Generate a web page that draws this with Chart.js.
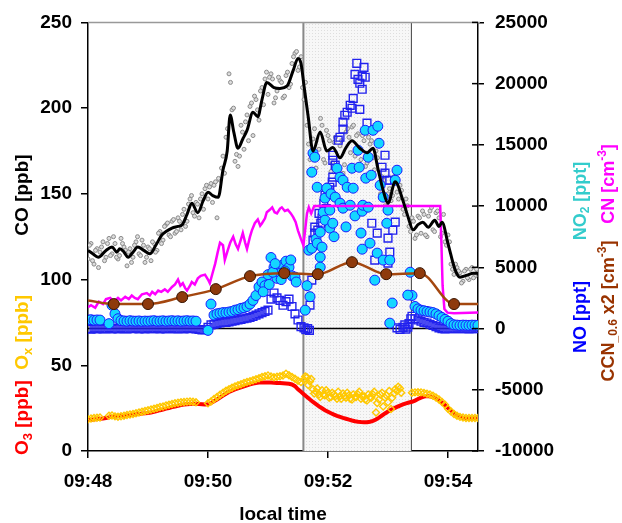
<!DOCTYPE html>
<html lang="en">
<head>
<meta charset="UTF-8">
<title>CO, NOx, O3 and particles</title>
<script src="https://cdn.jsdelivr.net/npm/chart.js"></script>
<style>
    html, body { margin: 0; padding: 0; background: #fff; }
    canvas { display: block; }
</style>
</head>
<body>
<canvas id="grafico" width="622" height="523"></canvas>
<script>
// time axis: minutes after 09:48 local time
const tickMinutes = [0, 2, 4, 6];
const tickLabels = ['09:48', '09:50', '09:52', '09:54'];
const step = 0.05;            // 3 s sampling of the regular series
const boxStart = 3.59;        // shaded period
const boxEnd = 5.39;

// CO raw [ppb], every 3 s from 09:48:00
const coRaw = [
    112,121,109,118,116,122,113,124,115,121,
    112,124,119,108,118,113,122,115,123,110,
    119,111,121,117,128,123,132,126,134,127,
    136,129,141,134,147,139,145,136,150,153,
    147,156,155,136,158,172,183,220,199,169,
    166,190,176,196,201,184,205,193,212,217,
    208,220,203,210,216,206,219,212,226,232,
    222,230,205,190,170,182,165,176,190,168,
    184,163,180,166,178,162,186,183,189,172,
    185,170,181,168,179,171,175,156,160,143,
    150,146,160,151,155,141,147,131,136,124,
    137,127,138,125,140,129,139,136,127,122,
    126,109,103,107,104,99,106,100,107,102,
    105
];
// CO raw [ppb], every 3 s from 09:48:01.5
const coRaw2 = [
    120,111,117,107,119,111,121,114,125,113,
    114,121,117,116,110,120,125,114,120,113,
    118,122,116,127,121,131,133,125,135,128,
    134,138,131,144,149,137,144,147,141,155,
    154,145,157,159,165,162,188,215,200,173,
    172,186,192,181,203,207,199,210,202,221,
    218,217,206,218,215,207,221,214,230,233,
    224,212,215,179,172,188,172,194,170,187,
    181,168,183,160,181,167,188,174,190,184,
    167,184,166,183,181,164,171,150,158,139,
    153,149,162,147,152,138,143,128,134,126,
    136,140,126,137,142,128,140,125,138,120,
    122,106,109,105,98,105,101,106,101,106
];

// CO smoothed [ppb]: [minute, value]
const coSmooth = [
    [0,117],[0.08,115],[0.17,113],[0.3,117],[0.4,119],[0.48,116],[0.53,118],[0.6,116],[0.67,113],[0.75,116],
    [0.83,119],[0.93,117],[1.03,115],[1.13,120],[1.23,126],[1.3,128],[1.4,130],[1.5,131],[1.57,132],[1.65,138],
    [1.73,144.5],[1.83,139],[1.92,146],[2.0,151],[2.08,149],[2.17,148],[2.25,164],[2.32,175],[2.37,196],[2.43,186],
    [2.5,176.6],[2.58,182],[2.65,187],[2.75,197.6],[2.83,195],[2.9,205],[2.98,215],[3.1,212],[3.2,211.5],[3.32,213],
    [3.42,222],[3.5,229],[3.55,226],[3.6,213],[3.67,195],[3.75,175],[3.87,186],[3.98,175],[4.08,177],[4.2,171],
    [4.3,177],[4.4,181],[4.53,176.6],[4.65,174],[4.75,176.6],[4.83,165],[4.92,152],[5.0,144.5],[5.12,157],[5.25,146],
    [5.33,137],[5.42,129],[5.5,132],[5.58,133.5],[5.67,130.5],[5.78,134.6],[5.85,131],[5.9,133.5],[6.0,121],[6.12,105.5],
    [6.2,101.4],[6.32,102.6],[6.42,103.7],[6.5,103.7]
];

// O3 [ppb], every 3 s from 09:48:00
const o3 = [
    18.0,18.2,18.4,18.6,18.8,19.0,19.3,19.6,19.9,20.1,
    20.3,20.5,20.6,20.8,21.0,21.2,21.4,21.6,21.8,22.0,
    22.2,22.5,22.9,23.3,23.8,24.2,24.7,25.1,25.6,26.0,
    26.4,26.8,27.1,27.3,27.4,27.5,27.5,27.4,27.3,27.1,
    27.3,28.0,29.0,30.0,31.2,32.3,33.4,34.4,35.2,35.9,
    36.5,37.1,37.7,38.3,38.9,39.4,39.7,39.9,40.0,40.0,
    40.0,39.9,39.8,39.7,39.6,39.5,39.4,39.2,38.8,37.8,
    36.0,34.5,33.0,31.5,30.0,28.6,27.3,26.0,24.9,23.8,
    22.9,22.0,21.2,20.5,19.9,19.3,18.8,18.3,17.8,17.4,
    17.1,16.9,16.8,16.8,17.1,17.6,18.4,19.5,20.7,21.9,
    23.0,24.0,24.9,25.7,26.5,27.2,27.8,28.3,28.7,29.4,
    30.3,31.1,31.7,32.0,31.9,31.4,30.6,29.5,28.2,26.7,
    25.1,23.6,22.2,21.0,20.0,19.4,19.1,19.0,19.0,19.1,
    19.1
];

// Ox [ppb], every 3 s from 09:48:00 (null = no data)
const ox = [
    18.5,19.0,19.2,19.4,19.6,null,null,20.5,20.7,20.2,
    20.0,20.3,20.6,21.0,21.3,21.6,22.0,22.4,22.9,23.3,
    23.8,24.2,24.7,25.1,25.6,26.0,26.5,27.0,27.4,27.8,
    28.1,28.4,28.6,28.8,28.9,28.7,28.5,null,null,null,
    27.8,28.9,30.3,31.5,32.8,34.0,35.1,36.0,36.9,37.7,
    38.4,39.0,39.6,40.2,40.7,41.3,41.9,42.5,43.1,43.6,
    44.0,43.5,43.0,43.3,43.6,44.1,45.0,44.2,43.2,42.2,
    41.0,40.2,41.5,43.0,40.5,36.0,34.5,33.0,35.5,32.5,
    34.0,31.5,33.0,30.5,32.0,33.5,31.0,32.5,30.0,31.5,
    33.0,30.5,32.0,29.5,31.5,33.0,22.5,30.0,34.0,31.0,
    28.5,24.5,33.5,35.0,36.5,null,null,null,34.0,34.2,
    34.3,34.2,33.9,33.4,32.9,32.2,31.2,30.0,28.6,27.0,
    24.6,23.0,21.6,20.6,19.9,19.5,19.3,19.2,19.2,19.3,
    19.3
];
// extra Ox samples inside the shaded period
const oxBox = [
    [3.62,43.5],[3.67,38.5],[3.72,42],[3.77,33.5],[3.82,36.5],[3.87,31.5],[3.92,33],[3.97,35.5],[4.02,31],[4.07,34],
    [4.12,32],[4.17,34.5],[4.22,30.5],[4.27,32],[4.32,34],[4.37,30.5],[4.42,33],[4.47,31.5],[4.52,34.5],[4.57,32],
    [4.62,30],[4.67,33],[4.72,31],[4.77,34.5],[4.82,28],[4.87,33],[4.92,26],[4.97,32.5],[5.02,35],[5.07,31],
    [5.12,36],[5.17,37.5],[5.22,34]
];

// NO [ppt]: 09:48:00-09:51:33 and 09:53:24-09:54:30 every 3 s, scattered values in between
const noBefore = [
    0,-50,30,-20,40,-30,0,50,-40,20,
    -20,30,0,-40,20,-10,40,-30,10,-20,
    30,-10,0,40,-30,20,-20,10,30,-40,
    0,20,-30,40,-10,10,-40,-80,-120,-100,
    100,300,350,400,450,500,500,550,600,650,
    700,750,800,850,900,1000,1100,1200,1300,1400,
    1500,2400,2900,2500,2300,1900,2200,2400,1800,1200,
    700,150
];
const noAfter = [
    1000,800,700,600,500,450,350,250,150,50,
    0,-20,10,-10,0,20,-10,0,10,-20,
    0,10,-10
];
const noBox = [
    [3.6,50],[3.63,-100],[3.66,0],[3.69,-150],[3.7,1910],[3.73,3950],[3.75,7220],[3.78,8280],[3.78,7790],[3.83,8030],
    [3.85,9400],[3.88,8600],[3.9,9010],[3.93,10200],[3.95,10890],[3.97,9800],[4.0,11300],[4.03,11540],[4.07,11950],[4.08,12360],
    [4.08,13740],[4.08,14150],[4.12,13340],[4.17,15380],[4.2,15620],[4.25,16280],[4.25,16850],[4.28,17420],[4.32,17660],[4.37,18230],
    [4.4,17990],[4.42,18800],[4.45,20760],[4.48,21660],[4.5,20350],[4.53,20030],[4.53,17900],[4.57,20600],[4.57,19540],[4.6,21330],
    [4.62,20520],[4.65,16770],[4.73,8600],[4.78,5590],[4.82,7790],[4.9,13170],[4.95,14150],[4.95,12690],[4.98,12110],[5.0,7380],
    [5.0,5340],[5.03,12110],[5.03,6240],[5.08,8030],[5.12,8690],[5.15,50],[5.2,-80],[5.25,100],[5.28,300],[5.3,-50],
    [5.33,120],[5.35,400],[5.38,800]
];

// NO2 [ppt], same sampling as NO
const no2Before = [
    700,720,680,700,690,null,null,400,1900,1200,
    800,650,620,600,640,610,600,620,590,610,
    600,620,640,600,610,630,600,620,640,610,
    630,600,620,640,610,620,600,null,null,null,
    -150,2000,1100,1200,1250,1300,1300,1350,1400,1500,
    1550,1650,1700,1800,2000,2300,2700,3400,3800,3500,
    4400,5800,5000,4100,4500,5200,5500,5000,4300,4200,
    null,null
];
const no2After = [
    2700,1800,1600,1500,1450,1400,1350,1300,1200,1050,
    900,750,600,400,300,280,260,280,270,260,
    280,270,260
];
const no2Box = [
    [2.92,3000],[3.02,3600],[3.08,4600],[3.12,5300],[3.22,4000],[3.28,4700],[3.38,5600],[3.47,3800],
    [3.62,1500],[3.65,3500],[3.68,6400],[3.7,2600],[3.73,6560],[3.73,12770],[3.75,14320],[3.78,13990],[3.8,7300],[3.82,11540],
    [3.82,6970],[3.87,7870],[3.87,5830],[3.87,5010],[3.9,6650],[3.92,9500],[3.95,8850],[3.95,10650],[3.98,11460],[4.03,8200],
    [4.03,9670],[4.05,11000],[4.08,8600],[4.1,7500],[4.12,10730],[4.15,13090],[4.2,12360],[4.2,10240],[4.25,12110],[4.25,9830],
    [4.3,8300],[4.32,11540],[4.37,10070],[4.4,13090],[4.42,11460],[4.45,9200],[4.5,14560],[4.52,13170],[4.55,7800],[4.57,9580],
    [4.57,6480],[4.58,10070],[4.62,16190],[4.63,12280],[4.67,13990],[4.67,9910],[4.7,6970],[4.72,12520],[4.75,16190],[4.78,3950],
    [4.82,6160],[4.83,16520],[4.85,15130],[4.87,11700],[4.92,10730],[4.92,5590],[4.98,8600],[5.0,9670],[5.03,5590],[5.03,440],
    [5.07,2080],[5.12,12110],[5.15,12930],[5.33,2730],[5.37,4600]
];

// CN [cm-3]: [minute, value]
const cnPoints = [
    [0.00,1750],[0.05,1900],[0.12,1700],[0.18,2200],[0.25,2000],[0.30,2400],[0.37,2500],[0.43,2200],[0.50,2500],[0.55,2300],
    [0.62,2600],[0.68,2400],[0.73,2700],[0.78,2500],[0.83,2400],[0.90,2800],[0.98,2900],[1.03,2700],[1.07,3000],[1.12,2800],
    [1.17,3100],[1.22,3000],[1.28,3200],[1.33,3000],[1.40,3400],[1.45,3600],[1.50,4000],[1.54,3500],[1.58,3700],[1.62,3300],
    [1.65,3100],[1.70,3500],[1.73,3800],[1.78,3600],[1.83,4100],[1.88,4300],[1.95,4400],[2.00,4000],[2.03,3700],[2.08,4600],
    [2.12,5300],[2.16,6200],[2.20,7000],[2.25,6800],[2.28,5600],[2.33,6400],[2.37,7000],[2.42,7500],[2.46,6900],[2.50,6500],
    [2.55,7300],[2.58,7800],[2.62,7000],[2.65,6500],[2.70,7500],[2.73,8000],[2.78,8600],[2.83,8900],[2.87,8400],[2.90,8600],
    [2.95,9000],[2.98,9500],[3.03,9700],[3.07,9900],[3.11,9500],[3.15,9400],[3.20,9800],[3.23,9900],[3.28,9600],[3.33,9700],
    [3.38,9400],[3.42,9100],[3.46,8700],[3.50,8000],[3.55,7300],[3.59,6800],[3.65,9400],[3.68,9900],[3.72,9400],[3.77,10000],
    [5.87,10000],[5.89,7000],[5.91,3500],[5.94,1600],[5.99,1300],[6.10,1250],[6.50,1300]
];

// CCN_0.6 x2 [cm-3]: [minute, value]; first and last entries are the line ends
const ccnPoints = [
    [0,2300],[0.43,2000],[1.0,2000],[1.57,2570],[2.13,3220],[2.7,4280],[3.27,4525],
    [3.83,4440],[4.4,5420],[4.97,4440],[5.53,4525],[6.1,2000],[6.5,2000]
];

const series = (values, t0) => values.map((v, i) => ({ x: Math.round((t0 + i * step) * 1000) / 1000, y: v }));
const points = list => list.map(([x, y]) => ({ x, y }));

const FONT = '"Liberation Sans", Arial, sans-serif';
const RED = '#ff0000', YEL = '#ffc800', BLUE = '#0000ff', CYAN = '#33cccc', MAG = '#ff00ff', BROWN = '#993300';

// vertical title made of segments, centred on (cx, cy), reading bottom to top
function drawVertical(ctx, parts, cx, cy, size) {
    const big = 'bold ' + size + 'px ' + FONT;
    const small = 'bold ' + Math.round(size * 0.68) + 'px ' + FONT;
    let w = 0;
    parts.forEach(p => { ctx.font = p.s ? small : big; p.w = ctx.measureText(p.t).width; w += p.w; });
    ctx.save();
    ctx.translate(cx, cy);
    ctx.rotate(-Math.PI / 2);
    ctx.textBaseline = 'middle';
    ctx.textAlign = 'left';
    let pos = -w / 2;
    parts.forEach(p => {
        ctx.font = p.s ? small : big;
        ctx.fillStyle = p.c;
        ctx.fillText(p.t, pos, p.s === 'sub' ? 5 : p.s === 'sup' ? -6 : 0);
        pos += p.w;
    });
    ctx.restore();
}

let pattern = null;
const decor = {
    id: 'decor',
    beforeDatasetsDraw(chart) {
        const { ctx, chartArea: a, scales: { x, y2 } } = chart;
        if (!pattern) {
            const c = document.createElement('canvas');
            c.width = 3; c.height = 3;
            const g = c.getContext('2d');
            g.fillStyle = '#f7f7f7'; g.fillRect(0, 0, 3, 3);
            g.fillStyle = '#dedede'; g.fillRect(0, 0, 1, 1);
            pattern = ctx.createPattern(c, 'repeat');
        }
        const x0 = x.getPixelForValue(boxStart), x1 = x.getPixelForValue(boxEnd);
        ctx.save();
        ctx.fillStyle = pattern;
        ctx.fillRect(x0, a.top, x1 - x0, a.bottom - a.top);
        ctx.strokeStyle = '#888';
        ctx.lineWidth = 2;
        ctx.beginPath(); ctx.moveTo(x0, a.top); ctx.lineTo(x0, a.bottom); ctx.stroke();
        ctx.strokeStyle = '#444';
        ctx.lineWidth = 1;
        ctx.beginPath(); ctx.moveTo(x1, a.top); ctx.lineTo(x1, a.bottom); ctx.stroke();
        // zero line of the right axis
        const yz = y2.getPixelForValue(0);
        ctx.strokeStyle = '#000';
        ctx.lineWidth = 1.5;
        ctx.beginPath(); ctx.moveTo(a.left, yz); ctx.lineTo(a.right, yz); ctx.stroke();
        ctx.restore();
    },
    afterDraw(chart) {
        const { ctx, chartArea: a, scales: { y2 } } = chart;
        ctx.save();
        // top frame
        ctx.strokeStyle = '#999';
        ctx.lineWidth = 1.5;
        ctx.beginPath(); ctx.moveTo(a.left, a.top); ctx.lineTo(a.right + 2, a.top); ctx.stroke();
        // inner half of the right axis ticks
        ctx.strokeStyle = '#000';
        ctx.lineWidth = 1.5;
        y2.ticks.forEach(t => {
            const py = y2.getPixelForValue(t.value);
            ctx.beginPath(); ctx.moveTo(a.right - 6, py); ctx.lineTo(a.right, py); ctx.stroke();
        });
        ctx.restore();

        drawVertical(ctx, [{ t: 'CO [ppb]', c: '#000' }], 23, 195, 19);
        drawVertical(ctx, [
            { t: 'O', c: RED }, { t: '3', c: RED, s: 'sub' }, { t: ' [ppb]  ', c: RED },
            { t: 'O', c: YEL }, { t: 'x', c: YEL, s: 'sub' }, { t: ' [ppb]', c: YEL }
        ], 23, 375, 19);
        drawVertical(ctx, [{ t: 'NO [ppt]', c: BLUE }], 581, 317, 18);
        drawVertical(ctx, [{ t: 'NO', c: CYAN }, { t: '2', c: CYAN, s: 'sub' }, { t: ' [ppt]', c: CYAN }], 581, 201, 18);
        drawVertical(ctx, [
            { t: 'CCN', c: BROWN }, { t: '_0.6', c: BROWN, s: 'sub' }, { t: ' x2 [cm', c: BROWN },
            { t: '-3', c: BROWN, s: 'sup' }, { t: ']', c: BROWN }
        ], 609, 311, 18);
        drawVertical(ctx, [{ t: 'CN [cm', c: MAG }, { t: '-3', c: MAG, s: 'sup' }, { t: ']', c: MAG }], 609, 184, 18);

        ctx.save();
        ctx.font = 'bold 19px ' + FONT;
        ctx.fillStyle = '#000';
        ctx.textAlign = 'center';
        ctx.textBaseline = 'middle';
        ctx.fillText('local time', 283, 515);
        ctx.restore();
    }
};

Chart.defaults.font.family = FONT;
const tickFont = { size: 19, weight: 'bold', family: FONT };
const axisGrid = { drawOnChartArea: false, drawTicks: true, tickLength: 7, color: '#000', lineWidth: 1.5 };

new Chart(document.getElementById('grafico'), {
    type: 'scatter',
    data: {
        datasets: [
            {
                label: 'CCN_0.6 x2', data: points(ccnPoints), yAxisID: 'y2', showLine: true,
                cubicInterpolationMode: 'monotone', borderColor: '#a4470f', borderWidth: 2.5,
                pointRadius: ccnPoints.map((p, i) => (i === 0 || i === ccnPoints.length - 1) ? 0 : 5.5),
                pointBackgroundColor: '#8e3a0c', pointBorderColor: '#3a1400', pointBorderWidth: 1, order: 1
            },
            {
                label: 'Ox', data: series(ox, 0).concat(points(oxBox)), yAxisID: 'y',
                pointStyle: 'rectRot', pointRadius: 3.5, pointBorderWidth: 1.4,
                pointBorderColor: YEL, pointBackgroundColor: 'rgba(255,255,255,0)', order: 2
            },
            {
                label: 'O3', data: series(o3, 0), yAxisID: 'y', showLine: true,
                borderColor: RED, borderWidth: 4, pointRadius: 0, order: 3
            },
            {
                label: 'CO smooth', data: points(coSmooth), yAxisID: 'y', showLine: true,
                cubicInterpolationMode: 'monotone', borderColor: '#000', borderWidth: 3, pointRadius: 0, order: 4
            },
            {
                label: 'CN', data: points(cnPoints), yAxisID: 'y2', showLine: true,
                borderColor: MAG, borderWidth: 2.5, pointRadius: 0, order: 5
            },
            {
                label: 'NO2', data: series(no2Before, 0).concat(series(no2After, 5.4), points(no2Box)), yAxisID: 'y2',
                pointRadius: 5, pointBackgroundColor: '#14d6ff', pointBorderColor: '#1b1bff', pointBorderWidth: 1, order: 6
            },
            {
                label: 'NO', data: series(noBefore, 0).concat(series(noAfter, 5.4), points(noBox)), yAxisID: 'y2',
                pointStyle: 'rect', pointRadius: 5.5, pointBorderColor: '#2222ee',
                pointBackgroundColor: 'rgba(255,255,255,0)', pointBorderWidth: 1.4, order: 7
            },
            {
                label: 'CO', data: series(coRaw, 0).concat(series(coRaw2, 0.025)), yAxisID: 'y',
                pointRadius: 2, pointBorderColor: '#8a8a8a', pointBackgroundColor: '#dddddd', pointBorderWidth: 1, order: 8
            }
        ]
    },
    options: {
        responsive: false,
        animation: false,
        layout: { padding: { top: 22, left: 0, right: 0, bottom: 0 } },
        plugins: { legend: { display: false }, tooltip: { enabled: false } },
        scales: {
            x: {
                type: 'linear', min: 0, max: 6.5,
                afterBuildTicks: s => { s.ticks = tickMinutes.map(v => ({ value: v })); },
                afterFit: s => { s.height = 72; },
                ticks: {
                    callback: (v, i) => tickLabels[i], font: tickFont, color: '#000',
                    padding: 12, maxRotation: 0, autoSkip: false
                },
                grid: axisGrid,
                border: { color: '#000', width: 1.5 }
            },
            y: {
                position: 'left', min: 0, max: 250,
                afterFit: s => { s.width = 88; },
                ticks: { stepSize: 50, font: tickFont, color: '#000', padding: 9 },
                grid: axisGrid,
                border: { color: '#000', width: 1.5 }
            },
            y2: {
                position: 'right', min: -10000, max: 25000,
                afterFit: s => { s.width = 144; },
                ticks: { stepSize: 5000, font: tickFont, color: '#000', padding: 11, callback: v => String(v) },
                grid: { drawOnChartArea: false, drawTicks: true, tickLength: 6, color: '#000', lineWidth: 1.5 },
                border: { color: '#000', width: 1.5 }
            }
        }
    },
    plugins: [decor]
});
</script>
</body>
</html>
